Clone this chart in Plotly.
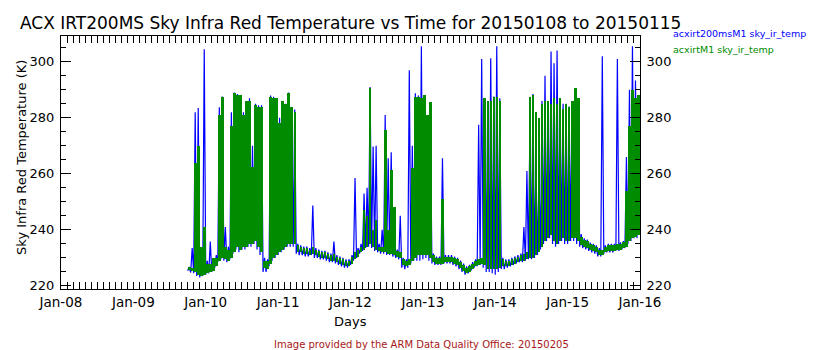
import pandas as pd
import plotly.graph_objects as go

# ---- data (hourly min/max of each sensor, from 2015-01-09 18:00) ----
start_time = "2015-01-09 18:00"
series_names = ["acxirt200msM1 sky_ir_temp", "acxirtM1 sky_ir_temp"]

green_lo = [226.0, 225.5, 225.0, 224.0, 223.5, 224.0, 224.5, 225.0, 225.5, 227.0,
            229.0, 230.0, 229.5, 229.0, 230.0, 232.0, 234.0, 233.0, 234.0, 234.0,
            235.0, 235.0, 236.0, 234.0, 232.0, 226.5, 226.0, 228.0, 230.0, 231.0,
            232.0, 233.0, 234.0, 235.0, 235.0, 235.0, 232.0, 232.0, 231.5, 231.5,
            231.0, 231.5, 231.0, 230.5, 230.0, 230.0, 229.5, 229.0, 229.0, 228.5,
            228.0, 227.5, 227.0, 227.0, 228.0, 229.5, 230.5, 232.0, 233.0, 234.0,
            235.0, 234.0, 233.0, 232.5, 232.0, 232.0, 231.5, 231.5, 231.0, 230.5,
            230.0, 227.5, 227.0, 227.5, 229.0, 230.0, 231.0, 231.0, 231.0, 231.0,
            230.0, 228.5, 228.0, 228.0, 228.0, 228.5, 228.5, 228.5, 228.0, 227.5,
            226.5, 225.5, 224.5, 225.0, 226.0, 227.0, 227.5, 228.0, 227.5, 226.0,
            226.0, 226.0, 226.0, 226.5, 227.0, 227.0, 227.0, 227.5, 228.0, 228.5,
            229.0, 229.0, 229.5, 230.0, 230.0, 231.0, 232.0, 234.0, 236.0, 237.0,
            238.0, 236.0, 235.0, 236.0, 237.0, 236.0, 236.0, 237.0, 237.0, 236.0,
            234.5, 234.0, 233.5, 233.0, 232.5, 232.0, 231.0, 231.0, 232.0, 232.5,
            232.5, 232.5, 233.0, 233.0, 233.5, 234.0, 236.0, 237.0, 237.5, 238.0]
green_hi = [226.6, 226.5, 264.0, 270.0, 234.0, 241.0, 228.0, 228.0, 230.0, 230.0,
            281.0, 287.5, 234.0, 233.0, 277.0, 288.8, 288.0, 288.0, 281.0, 286.0,
            286.0, 262.6, 284.6, 284.0, 284.0, 229.0, 229.0, 287.6, 287.0, 287.0,
            278.0, 286.0, 285.0, 288.8, 284.0, 282.0, 234.5, 234.0, 233.5, 233.5,
            233.0, 234.0, 233.0, 232.5, 232.0, 232.0, 231.5, 231.0, 231.5, 230.5,
            230.0, 229.5, 229.0, 229.0, 230.5, 232.0, 233.0, 234.0, 247.0, 245.0,
            290.6, 240.0, 243.6, 234.0, 234.0, 275.7, 240.0, 261.4, 248.0, 232.5,
            232.0, 229.5, 229.0, 229.5, 262.0, 287.6, 287.6, 287.0, 288.0, 281.0,
            285.8, 231.0, 230.0, 230.0, 251.0, 230.5, 230.5, 230.5, 230.0, 229.5,
            228.5, 227.5, 226.5, 227.0, 228.0, 229.0, 229.5, 230.0, 287.0, 286.0,
            286.0, 287.6, 287.6, 286.0, 229.5, 229.0, 229.0, 229.5, 230.0, 230.5,
            231.0, 231.5, 232.0, 287.6, 288.0, 282.0, 280.0, 285.0, 286.0, 286.0,
            285.0, 287.0, 285.0, 287.0, 283.0, 285.0, 284.0, 286.0, 290.6, 287.0,
            237.5, 236.5, 236.0, 235.0, 234.5, 234.0, 233.0, 233.0, 234.0, 234.5,
            234.5, 234.5, 235.0, 235.0, 235.5, 254.0, 277.0, 290.0, 287.0, 288.0]
blue_lo = [225.4, 224.8, 224.5, 223.5, 223.0, 223.5, 224.0, 224.5, 225.0, 226.5,
           228.5, 229.5, 229.0, 228.5, 229.5, 231.5, 233.0, 232.0, 233.0, 233.0,
           234.0, 234.0, 235.0, 233.0, 231.0, 225.0, 225.0, 227.0, 229.0, 230.0,
           231.0, 232.0, 233.0, 234.0, 234.0, 234.0, 231.5, 231.0, 231.0, 230.5,
           230.5, 231.0, 230.0, 230.0, 229.5, 229.5, 229.0, 228.5, 228.5, 228.0,
           227.5, 227.0, 226.5, 226.5, 227.5, 229.0, 230.0, 231.5, 232.5, 233.5,
           234.0, 233.5, 232.5, 232.0, 231.5, 231.5, 231.0, 231.0, 230.5, 230.0,
           229.5, 226.5, 226.0, 226.5, 228.0, 229.0, 229.0, 229.0, 229.5, 230.0,
           229.0, 228.0, 227.5, 227.5, 227.5, 228.0, 228.0, 228.0, 227.5, 227.0,
           226.0, 225.0, 224.0, 224.5, 225.5, 226.5, 227.0, 227.5, 226.5, 225.0,
           225.0, 224.5, 224.0, 225.0, 226.0, 226.0, 226.5, 227.0, 227.5, 228.0,
           228.5, 228.5, 229.0, 229.5, 229.5, 230.0, 231.0, 233.0, 235.0, 236.0,
           237.0, 235.0, 234.0, 235.0, 236.0, 235.0, 235.0, 236.0, 236.0, 235.0,
           234.0, 233.5, 233.0, 232.5, 232.0, 231.5, 230.5, 230.5, 231.5, 232.0,
           232.0, 232.0, 232.5, 232.5, 233.0, 233.5, 235.0, 236.0, 237.0, 237.0]
blue_hi = [226.8, 233.5, 282.0, 283.5, 226.0, 304.5, 229.0, 235.8, 229.0, 231.0,
           283.8, 287.6, 241.0, 234.0, 282.0, 289.0, 288.5, 288.0, 282.0, 286.0,
           287.0, 270.0, 285.0, 284.5, 284.5, 230.0, 229.5, 288.0, 287.5, 287.0,
           280.0, 286.0, 285.0, 289.0, 282.0, 283.0, 235.0, 234.5, 234.0, 234.0,
           233.5, 248.7, 233.5, 233.0, 232.5, 232.5, 232.0, 231.5, 235.8, 231.0,
           230.5, 230.0, 229.5, 229.5, 231.0, 258.5, 233.5, 235.0, 253.0, 255.0,
           291.0, 269.8, 270.0, 235.0, 240.0, 281.0, 265.6, 267.7, 233.0, 233.0,
           245.0, 230.0, 229.5, 297.0, 270.0, 288.8, 288.0, 305.5, 288.0, 281.0,
           277.5, 231.5, 230.5, 230.5, 265.6, 231.0, 231.0, 231.0, 230.5, 230.0,
           229.0, 228.0, 227.0, 227.5, 228.5, 229.5, 277.5, 301.0, 287.0, 286.0,
           301.3, 287.6, 305.5, 287.0, 230.0, 229.5, 229.5, 230.0, 230.5, 231.0,
           231.5, 241.0, 261.0, 277.5, 288.5, 265.0, 258.0, 286.0, 295.0, 286.0,
           303.7, 299.5, 304.0, 287.0, 285.0, 285.0, 284.0, 286.0, 290.6, 287.0,
           238.5, 237.0, 236.5, 235.5, 235.0, 234.5, 233.5, 302.0, 234.5, 235.0,
           235.0, 235.0, 301.0, 235.5, 236.0, 266.0, 290.0, 305.5, 293.3, 288.0]

x_ticktext = ["Jan-08", "Jan-09", "Jan-10", "Jan-11", "Jan-12", "Jan-13", "Jan-14", "Jan-15", "Jan-16"]
y_tickvals = [220, 240, 260, 280, 300]

HOUR_MS = 3600000
times = pd.date_range(start_time, periods=len(green_lo), freq="h")

# blue: min/max of each hour drawn as a trace going low -> high within the hour
bx, by = [], []
for t, lo, hi in zip(times, blue_lo, blue_hi):
    bx += [t, t + pd.Timedelta(minutes=30)]
    by += [lo, hi]

BLUE = "#0000ff"
GREEN = "#008c00"
FONT = "DejaVu Sans"

fig = go.Figure()
fig.add_trace(go.Scatter(
    x=bx, y=by, mode="lines", line=dict(color=BLUE, width=1.2),
    name=series_names[0], yaxis="y"))
fig.add_trace(go.Bar(
    x=times, base=green_lo, y=[h - l for h, l in zip(green_hi, green_lo)],
    width=HOUR_MS * 0.85, offset=HOUR_MS * 0.1, marker=dict(color=GREEN, line=dict(width=0)),
    name=series_names[1], yaxis="y2"))

yr = [218.9, 309.2]
tickvals_x = pd.date_range("2015-01-08", "2015-01-16", freq="D")

axis_common = dict(
    ticks="inside", tickcolor="black", tickwidth=1,
    showline=True, linecolor="black", linewidth=1,
    showgrid=False, zeroline=False,
)

fig.update_layout(
    width=840, height=350,
    margin=dict(l=61, r=200, t=36, b=61),
    paper_bgcolor="white", plot_bgcolor="white",
    showlegend=False, barmode="overlay", bargap=0,
    font=dict(family=FONT, color="black", size=13),
    xaxis=dict(
        type="date", range=["2015-01-08", "2015-01-16"],
        tickvals=tickvals_x, ticktext=x_ticktext, ticklen=7, mirror="allticks",
        tickfont=dict(size=13.5, family=FONT), ticklabelstandoff=1,
        minor=dict(dtick=7200000, tick0="2015-01-08", ticks="inside", ticklen=3,
                   tickcolor="black", showgrid=False),
        **axis_common,
    ),
    yaxis=dict(
        range=yr, tickvals=y_tickvals, ticklen=10,
        tickfont=dict(size=13, family=FONT), ticklabelstandoff=3,
        minor=dict(dtick=5, tick0=220, ticks="inside", ticklen=5, tickcolor="black", showgrid=False),
        **axis_common,
    ),
    yaxis2=dict(
        range=yr, tickvals=y_tickvals, overlaying="y", side="right", ticklen=10,
        tickfont=dict(size=13, family=FONT), ticklabelstandoff=3,
        minor=dict(dtick=5, tick0=220, ticks="inside", ticklen=5, tickcolor="black", showgrid=False),
        **axis_common,
    ),
)

ann = [
    dict(text="ACX IRT200MS Sky Infra Red Temperature vs Time for 20150108 to 20150115",
         x=0.5, y=1.0514, xanchor="center", yanchor="middle", font=dict(size=17)),
    dict(text="Sky Infra Red Temperature (K)", textangle=-90,
         x=-0.0674, y=0.522, xanchor="center", yanchor="middle", font=dict(size=13)),
    dict(text="Days", x=0.5, y=-0.1265, xanchor="center", yanchor="middle", font=dict(size=13)),
    dict(text="Image provided by the ARM Data Quality Office: 20150205",
         x=0.6218, y=-0.2213, xanchor="center", yanchor="middle",
         font=dict(size=10, color="#a81818")),
    dict(text=series_names[0], x=1.0535, y=1.0107, xanchor="left", yanchor="middle",
         font=dict(size=9.5, color=BLUE)),
    dict(text=series_names[1], x=1.0535, y=0.947, xanchor="left", yanchor="middle",
         font=dict(size=9.5, color=GREEN)),
]
for a in ann:
    a.update(xref="paper", yref="paper", showarrow=False)
    a["font"].setdefault("family", FONT)
fig.update_layout(annotations=ann)

fig.write_html("out.html")
